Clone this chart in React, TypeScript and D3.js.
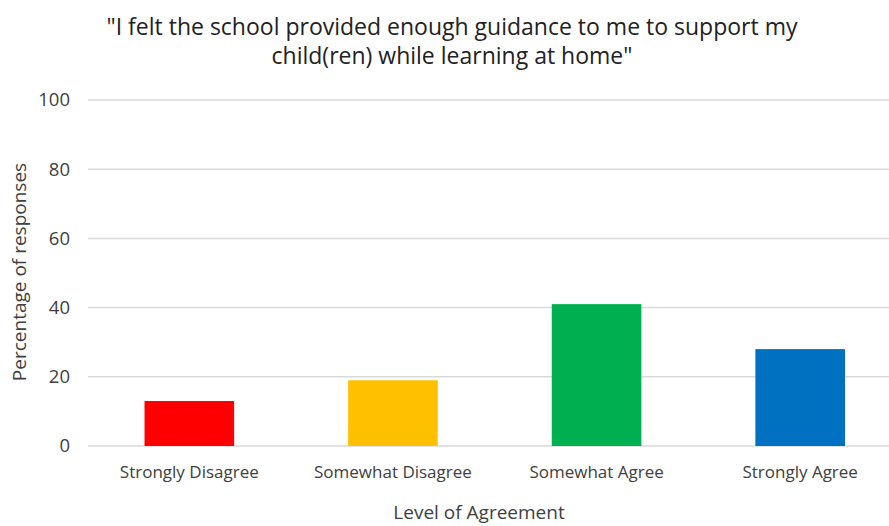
import React from "react";
import * as d3 from "d3";

const categories = ["Strongly Disagree", "Somewhat Disagree", "Somewhat Agree", "Strongly Agree"];
const values = [13, 19, 41, 28];
const colors = ["#FF0000", "#FFC000", "#00B050", "#0070C0"];
const yTicks = [0, 20, 40, 60, 80, 100];
const titleLines = [
  "\"I felt the school provided enough guidance to me to support my",
  "child(ren) while learning at home\"",
];

const W = 889;
const H = 526;
const FONT = "'Open Sans', Lato, sans-serif";

export default function App() {
  const x = d3.scaleBand<string>().domain(categories).range([87.5, 902]).paddingInner(0.56).paddingOuter(0.28);
  const y = d3.scaleLinear().domain([0, 100]).range([446, 100]);

  return (
    <svg width={W} height={H} style={{ position: "absolute", left: 0, top: 0, background: "#fff" }}>
      <rect x={0} y={0} width={W} height={H} fill="#fff" />
      {titleLines.map((t, i) => (
        <text key={i} x={452} y={35 + i * 29} textAnchor="middle" fontFamily={FONT} fontSize={23} fill="#222">
          {t}
        </text>
      ))}
      {yTicks.map((t) => (
        <g key={t}>
          <line x1={88} x2={W} y1={y(t)} y2={y(t)} stroke="#D9D9D9" strokeWidth={1.5} />
          <text x={70} y={y(t)} dy="0.35em" textAnchor="end" fontFamily={FONT} fontSize={18.5} fill="#404040">
            {t}
          </text>
        </g>
      ))}
      {categories.map((c, i) => (
        <g key={c}>
          <rect x={x(c)} y={y(values[i])} width={x.bandwidth()} height={y(0) - y(values[i])} fill={colors[i]} />
          <text x={(x(c) as number) + x.bandwidth() / 2} y={478} textAnchor="middle" fontFamily={FONT} fontSize={17} fill="#404040">
            {c}
          </text>
        </g>
      ))}
      <text x={479} y={519} textAnchor="middle" fontFamily={FONT} fontSize={19} fill="#404040">
        Level of Agreement
      </text>
      <text
        transform={`translate(26, 272) rotate(-90)`}
        textAnchor="middle"
        fontFamily={FONT}
        fontSize={19}
        fill="#404040"
      >
        Percentage of responses
      </text>
    </svg>
  );
}
